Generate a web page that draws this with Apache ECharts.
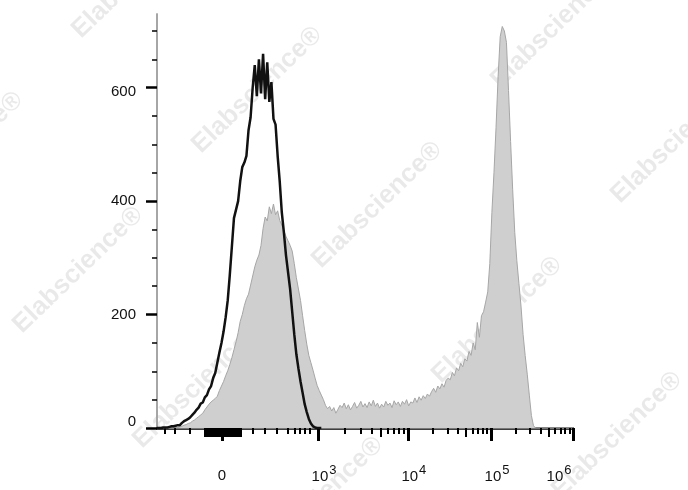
<!DOCTYPE html>
<html>
<head>
<meta charset="utf-8">
<script src="https://cdn.jsdelivr.net/npm/echarts@6/dist/echarts.min.js"></script>
<style>html,body{margin:0;padding:0;background:#fff}#c{width:688px;height:490px}</style>
</head>
<body>
<div id="c"></div>
<script>
// ---- data (x in display channels 0..1000, bin width 5 channels) ----
const BIN_WIDTH = 5;
const isotypeCounts = [
0,0,0,1,1,1,2,3,3,4, 5,5,9,12,14,16,19,23,27,32,
36,43,45,54,58,68,74,88,97,115, 133,150,170,195,225,270,320,370,385,400,
435,460,468,480,525,548,600,640,585,650, 590,660,580,645,575,610,545,535,480,435,
380,345,305,275,245,205,165,130,105,82, 62,42,28,16,8,3,1,0,0,0
];
const stainedCounts = [
0,0,0,0,0,0,0,0,0,1, 1,2,3,5,6,8,9,12,14,17,
20,23,26,32,37,42,46,49,52,56, 66,74,82,92,101,112,124,138,152,168,
188,200,216,228,236,252,268,284,296,305, 322,352,372,365,390,378,395,376,383,366,
358,348,338,330,322,312,290,265,245,225, 198,172,148,128,115,102,88,75,66,58,
50,40,34,38,30,36,26,33,40,36, 44,34,41,32,38,45,35,40,47,37,
43,36,46,39,49,38,44,35,42,37, 47,40,44,36,48,41,46,38,47,42,
50,39,46,44,53,45,55,49,57,52, 60,56,64,70,63,74,69,78,72,84,
88,85,98,92,106,101,114,108,122,118, 135,128,150,138,186,160,198,205,222,240,
290,380,450,530,620,690,708,700,680,595, 505,420,345,295,255,215,165,128,95,58,
22,4,0
];
// axis ticks (display channels)
const xMajorTicks = [156, 387, 603, 803, 1000];
const xMajorExp = [null, 3, 4, 5, 6];
const xDecadeTicks = [387, 603, 803, 1000];      // 10^3 .. 10^6
const xLinearMinorTicks = [19, 43, 79, 231, 260, 288, 315, 332, 344, 356, 368];
const xZeroBand = [115, 202];
const yMajorTicks = [0, 200, 400, 600];
const yMinorTicks = [50, 100, 150, 250, 300, 350, 450, 500, 550, 650, 700];
const Y_MAX = 730;

const toPairs = arr => arr.map((v, i) => [i * BIN_WIDTH, v]);

const xMinor = xLinearMinorTicks.slice();
const xMedium = [];
for (let d = 0; d < xDecadeTicks.length - 1; d++) {
  const a = xDecadeTicks[d], b = xDecadeTicks[d + 1];
  for (let m = 2; m <= 9; m++) {
    const p = a + Math.log10(m) * (b - a);
    if (m === 5) xMedium.push(p); else xMinor.push(p);
  }
}
for (let v = xZeroBand[0]; v <= xZeroBand[1]; v += 4.5) xMedium.push(v);

const FONT = '"Liberation Sans", Arial, Helvetica, sans-serif';
const gridRect = {left: 157, right: 115, top: 14, bottom: 62};
const hiddenLabel = {show: false};

const chart = echarts.init(document.getElementById('c'), null, {renderer: 'canvas'});

const wm = [[137,-25],[257,90],[377,205],[497,320],[617,435],[-42,155],[78,270],[198,385],[318,500],[556,25],[676,140]];

chart.setOption({
  animation: false,
  backgroundColor: '#fff',
  graphic: wm.map(p => ({
    type: 'text', x: p[0], y: p[1], rotation: 44 * Math.PI / 180, z: 0, silent: true,
    style: {text: 'Elabscience®', font: 'bold 26px ' + FONT, fill: 'rgba(0,0,0,0.085)', align: 'center', verticalAlign: 'middle'}
  })),
  grid: [Object.assign({}, gridRect), Object.assign({}, gridRect), Object.assign({}, gridRect)],
  xAxis: [
    { gridIndex: 0, type: 'value', min: 0, max: 1000, position: 'bottom',
      axisLine: {lineStyle: {color: '#000', width: 2.5}},
      axisTick: {customValues: xMajorTicks, length: 13, lineStyle: {color: '#000', width: 3}},
      splitLine: {show: false},
      axisLabel: {
        customValues: xMajorTicks, showMinLabel: true, showMaxLabel: true, margin: 36,
        color: '#111', fontFamily: FONT, fontSize: 15,
        formatter: function (v) {
          let i = 0;
          for (let k = 0; k < xMajorTicks.length; k++) if (Math.abs(xMajorTicks[k] - v) < 0.5) i = k;
          const e = xMajorExp[i];
          if (e == null) return '{z|0}';
          if (i === xMajorTicks.length - 1) return '{b|10}{e|' + e + '}';
          return '{p|10}{s|' + e + '}';
        },
        rich: {
          z: {fontSize: 15, fontFamily: FONT, color: '#111', padding: [4, 0, 0, 0]},
          p: {fontSize: 15, fontFamily: FONT, color: '#111', padding: [0, 0, 0, 12]},
          b: {fontSize: 15, fontFamily: FONT, color: '#111'},
          s: {fontSize: 13, fontFamily: FONT, color: '#111', padding: [0, 0, 13, 1]},
          e: {fontSize: 13, fontFamily: FONT, color: '#111', padding: [0, 28, 13, 1]}
        }
      }
    },
    { gridIndex: 0, type: 'value', min: 0, max: 1000, position: 'top',
      axisLine: {show: true, lineStyle: {color: '#a0a0a0', width: 1.5}},
      axisTick: {show: false}, axisLabel: hiddenLabel, splitLine: {show: false} },
    { gridIndex: 1, type: 'value', min: 0, max: 1000, position: 'bottom',
      axisLine: {show: false},
      axisTick: {customValues: xMinor, length: 6, lineStyle: {color: '#000', width: 2}},
      axisLabel: hiddenLabel, splitLine: {show: false} },
    { gridIndex: 2, type: 'value', min: 0, max: 1000, position: 'bottom',
      axisLine: {show: false},
      axisTick: {customValues: xMedium, length: 9, lineStyle: {color: '#000', width: 2}},
      axisLabel: hiddenLabel, splitLine: {show: false} }
  ],
  yAxis: [
    { gridIndex: 0, type: 'value', min: 0, max: Y_MAX, position: 'left',
      axisLine: {show: true, lineStyle: {color: '#a0a0a0', width: 1.5}},
      axisTick: {show: true, customValues: yMajorTicks, length: 11, lineStyle: {color: '#000', width: 2.5}},
      splitLine: {show: false},
      axisLabel: {
        customValues: yMajorTicks, showMinLabel: true, margin: 21, color: '#111', fontFamily: FONT, fontSize: 15,
        formatter: function (v) {
          if (v === 0) return '{lo|0}';
          if (v === 600) return '{hi|600}';
          return String(v);
        },
        rich: {
          lo: {fontSize: 15, fontFamily: FONT, color: '#111', padding: [0, 0, 12, 0]},
          hi: {fontSize: 15, fontFamily: FONT, color: '#111', padding: [9, 0, 0, 0]}
        }
      }
    },
    { gridIndex: 0, type: 'value', min: 0, max: Y_MAX, position: 'right',
      axisLine: {show: true, lineStyle: {color: '#a0a0a0', width: 1.5}},
      axisTick: {show: false}, axisLabel: hiddenLabel, splitLine: {show: false} },
    { gridIndex: 1, type: 'value', min: 0, max: Y_MAX, position: 'left',
      axisLine: {show: false},
      axisTick: {show: true, customValues: yMinorTicks, length: 5, lineStyle: {color: '#000', width: 1.5}},
      axisLabel: hiddenLabel, splitLine: {show: false} },
    { gridIndex: 2, type: 'value', min: 0, max: Y_MAX, show: false }
  ],
  series: [
    { name: 'Stained', type: 'line', xAxisIndex: 0, yAxisIndex: 0, data: toPairs(stainedCounts),
      showSymbol: false, symbol: 'none', z: 2,
      lineStyle: {color: '#a6a6a6', width: 1},
      areaStyle: {color: '#cfcfcf', opacity: 1} },
    { name: 'Isotype', type: 'line', xAxisIndex: 0, yAxisIndex: 0, data: toPairs(isotypeCounts),
      showSymbol: false, symbol: 'none', z: 3,
      lineStyle: {color: '#111', width: 2.5} }
  ]
});
</script>
</body>
</html>
